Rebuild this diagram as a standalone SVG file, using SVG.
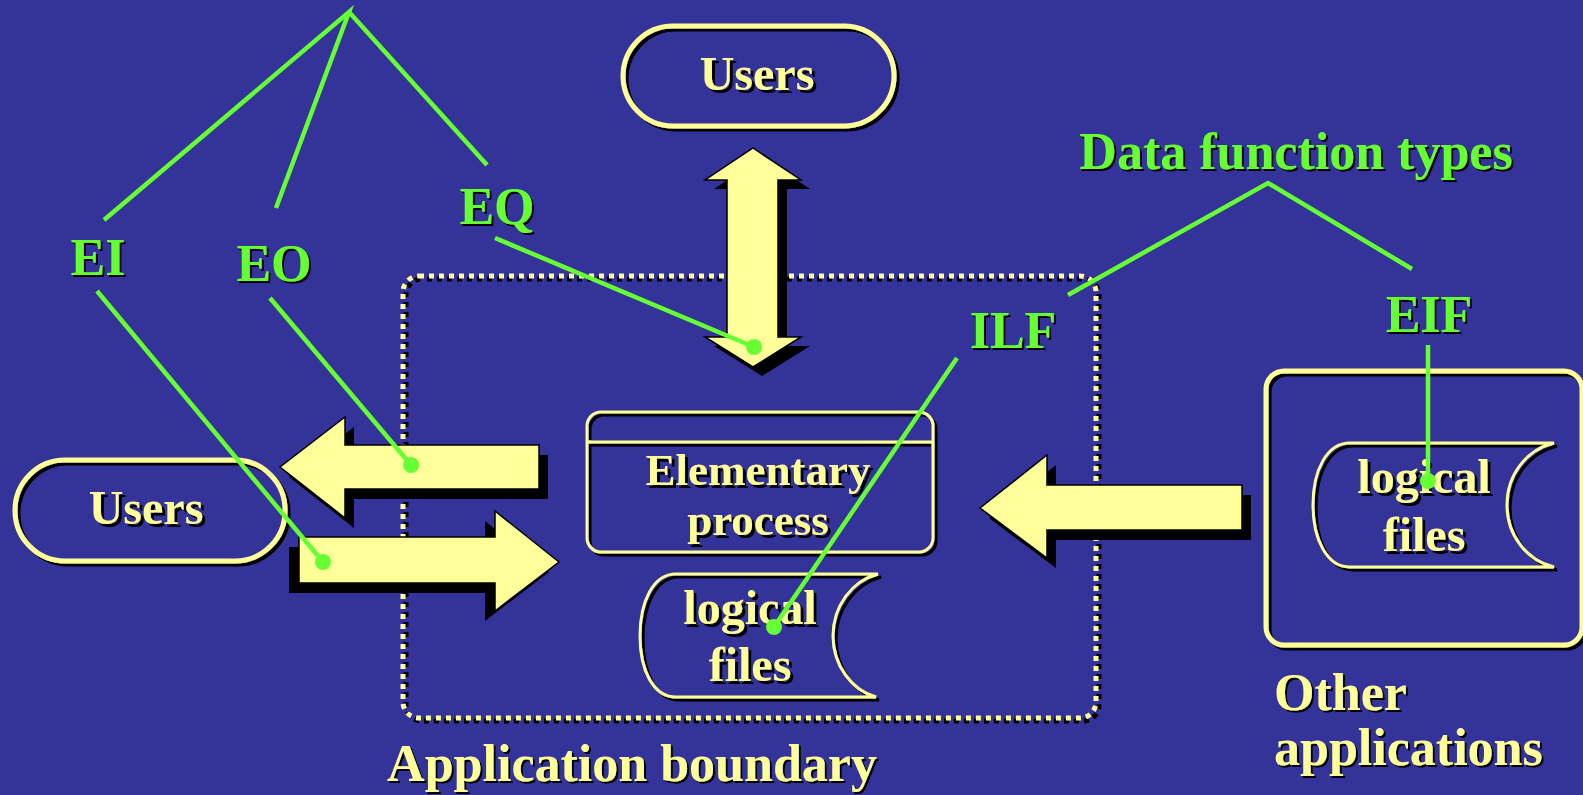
<svg xmlns="http://www.w3.org/2000/svg" xmlns:xlink="http://www.w3.org/1999/xlink" width="1583" height="795" viewBox="0 0 1583 795">
<defs>
<filter id="ts" x="-10%" y="-10%" width="130%" height="130%"><feOffset in="SourceAlpha" dx="2" dy="2" result="o"/><feMerge><feMergeNode in="o"/><feMergeNode in="SourceGraphic"/></feMerge></filter>
<filter id="ss" x="-5%" y="-5%" width="115%" height="115%"><feOffset in="SourceAlpha" dx="3" dy="3" result="o"/><feMerge><feMergeNode in="o"/><feMergeNode in="SourceGraphic"/></feMerge></filter>
<polygon id="dbl" points="753,148 801,180 778,180 778,337 801,337 753,367 705,337 727,337 727,180 705,180"/>
<polygon id="arrL" points="280,467 345,417 345,445 539,445 539,489 345,489 345,518"/>
<polygon id="arrR" points="559,562 495,511 495,537 299,537 299,583 495,583 495,611"/>
<polygon id="arrO" points="980,508 1047,455 1047,485 1242,485 1242,530 1047,530 1047,558"/>
</defs>
<style>
.bg{fill:#333399}
.lbl{font-family:"Liberation Serif","Times New Roman",serif;font-weight:bold;fill:#66FF33;font-size:52px;text-anchor:middle}
.ylw{font-family:"Liberation Serif","Times New Roman",serif;font-weight:bold;fill:#FFFF99;font-size:48px;text-anchor:middle}
.big{font-size:52px}
.mid{font-size:45px}
.outl{fill:none;stroke:#FFFF99}
.arrow{fill:#FFFF99;stroke:#000;stroke-width:1.5}
.shadow{fill:#000}
.conn{stroke:#66FF33;stroke-width:4.5;fill:none}
.dot{fill:#66FF33}
</style>
<rect class="bg" x="0" y="0" width="1583" height="795"/>

<g id="boundary">
<rect x="406" y="279" width="693" height="442" rx="16" fill="none" stroke="#000" stroke-width="5" stroke-dasharray="5 5" stroke-dashoffset="5"/>
<rect x="403" y="276" width="693" height="442" rx="16" fill="none" stroke="#FFFF99" stroke-width="5" stroke-dasharray="5 5"/>
<text class="ylw big" x="632" y="781" filter="url(#ts)">Application boundary</text>
</g>

<g id="users-top" filter="url(#ss)">
<rect class="outl" x="623" y="26" width="271" height="100" rx="50" stroke-width="5"/>
<text class="ylw" x="757" y="90">Users</text>
</g>

<g id="users-left" filter="url(#ss)">
<rect class="outl" x="15" y="460" width="270" height="101" rx="50" stroke-width="5"/>
<text class="ylw" x="146" y="524">Users</text>
</g>

<g id="arrow-users">
<use href="#dbl" class="shadow" transform="translate(9,9)"/>
<use href="#dbl" class="arrow"/>
</g>
<g id="arrow-eo">
<use href="#arrL" class="shadow" transform="translate(9,10)"/>
<use href="#arrL" class="arrow"/>
</g>
<g id="arrow-ei">
<use href="#arrR" class="shadow" transform="translate(-10,10)"/>
<use href="#arrR" class="arrow"/>
</g>
<g id="arrow-other">
<use href="#arrO" class="shadow" transform="translate(9,10)"/>
<use href="#arrO" class="arrow"/>
</g>

<g id="elementary" filter="url(#ss)">
<rect class="outl" x="587" y="412" width="346" height="140" rx="14" stroke-width="3"/>
<line x1="587" y1="442" x2="933" y2="442" stroke="#FFFF99" stroke-width="3"/>
<text class="ylw mid" x="758" y="485">Elementary</text>
<text class="ylw mid" x="758" y="535">process</text>
</g>

<g id="ilf-files" filter="url(#ss)">
<path class="outl" stroke-width="3" d="M676,574 H878 C852,581 833,606 833,636 C833,666 852,690 876,697 H676 C653,697 640,670 640,636 C640,602 653,574 676,574 Z"/>
<text class="ylw" x="750" y="624">logical</text>
<text class="ylw" x="750" y="681">files</text>
</g>

<g id="other-apps">
<rect class="outl" x="1266" y="371" width="316" height="274" rx="18" stroke-width="5" filter="url(#ss)"/>
<g filter="url(#ss)">
<path class="outl" stroke-width="3" d="M1350,443 H1554 C1526,450 1507,475 1507,505 C1507,535 1526,560 1554,567 H1350 C1327,567 1313,540 1313,505 C1313,470 1327,443 1350,443 Z"/>
<text class="ylw" x="1424" y="493">logical</text>
<text class="ylw" x="1424" y="551">files</text>
</g>
<text class="ylw big" x="1274" y="710" style="text-anchor:start" filter="url(#ts)">Other</text>
<text class="ylw big" x="1274" y="765" style="text-anchor:start" filter="url(#ts)">applications</text>
</g>

<g id="labels" filter="url(#ts)">
<text class="lbl" x="98" y="275">EI</text>
<text class="lbl" x="274" y="281">EO</text>
<text class="lbl" x="497" y="224">EQ</text>
<text class="lbl" x="1013" y="348">ILF</text>
<text class="lbl" x="1429" y="332">EIF</text>
<text class="lbl" x="1296" y="169">Data function types</text>
</g>

<g id="connectors">
<polyline class="conn" points="104,220 349,12 276,208"/>
<line class="conn" x1="349" y1="12" x2="487" y2="165"/>
<polyline class="conn" points="1068,295 1268,183 1412,269"/>
<line class="conn" x1="97" y1="291" x2="323" y2="562"/>
<line class="conn" x1="270" y1="298" x2="411" y2="465"/>
<line class="conn" x1="495" y1="238" x2="754" y2="347"/>
<line class="conn" x1="957" y1="358" x2="774" y2="627"/>
<line class="conn" x1="1428" y1="345" x2="1428" y2="480"/>
<circle class="dot" cx="323" cy="562" r="8"/>
<circle class="dot" cx="411" cy="465" r="8"/>
<circle class="dot" cx="754" cy="347" r="8"/>
<circle class="dot" cx="774" cy="627" r="8"/>
<circle class="dot" cx="1428" cy="481" r="8"/>
</g>
</svg>
